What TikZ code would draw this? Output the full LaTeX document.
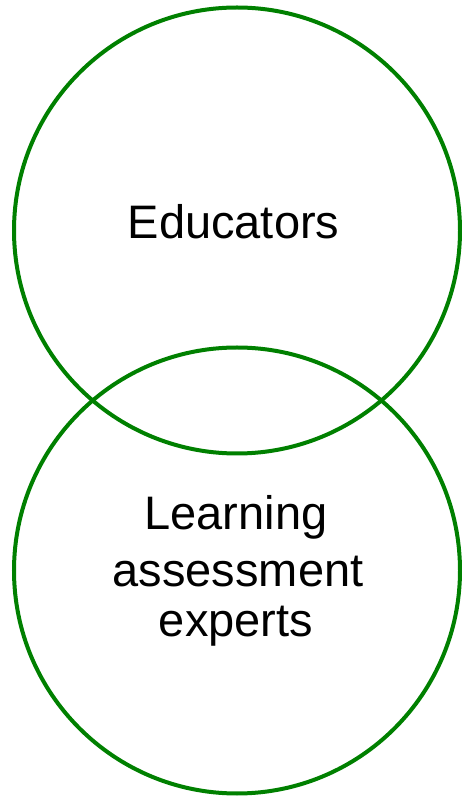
\documentclass[tikz,border=0pt]{standalone}
\usepackage{fontspec}
\setmainfont{Liberation Sans}
\definecolor{ringgreen}{RGB}{0,128,0}
\begin{document}
\begin{tikzpicture}[x=1pt,y=1pt,
  ring/.style={circle, draw=ringgreen, line width=4pt, minimum size=446pt, inner sep=0pt},
  label/.style={font=\fontsize{47}{56}\selectfont, text=black, inner sep=0pt, anchor=base, align=center}]
  \useasboundingbox (0,0) rectangle (462,796);
  % two overlapping circles
  \node[ring] (top) at (237,565.5) {};
  \node[ring] (bottom) at (237,225.5) {};
  % circle labels
  \node[label] (educators) at (233.5,557) {Educators};
  \node[label] (learning) at (236,266) {Learning};
  \node[label] (assessment) at (238,209) {assessment};
  \node[label] (experts) at (236,159) {experts};
\end{tikzpicture}
\end{document}
